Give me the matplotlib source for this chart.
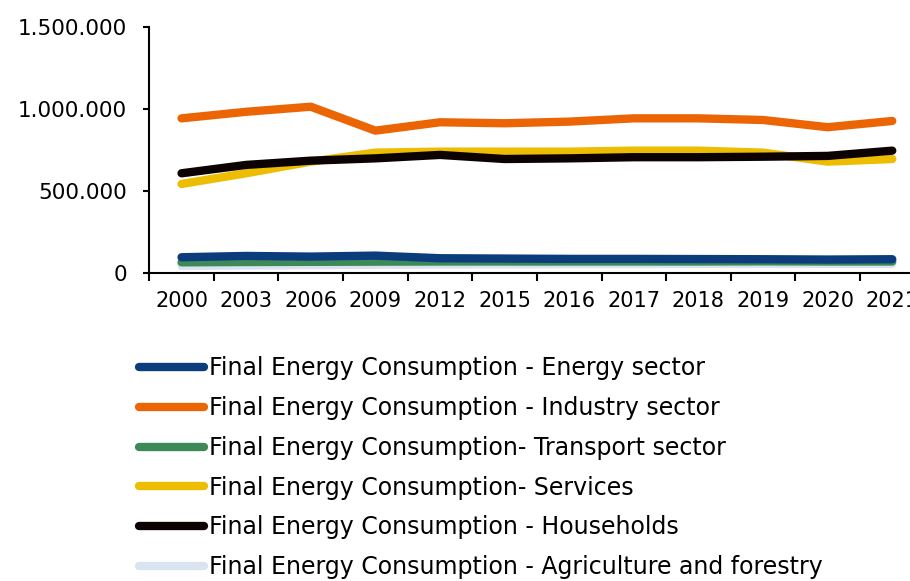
import matplotlib
matplotlib.use("Agg")
import matplotlib.pyplot as plt
from matplotlib.ticker import FuncFormatter, FixedLocator

plt.rcParams['font.family'] = ['DejaVu Sans']

# years on the category axis
years = ["2000", "2003", "2006", "2009", "2012", "2015", "2016",
         "2017", "2018", "2019", "2020", "2021"]

energy = [94000, 102000, 98000, 104000, 88000, 86000, 84000, 84000, 83000, 82000, 80000, 82000]
industry = [941000, 981000, 1012000, 866000, 917000, 911000, 921000, 941000, 941000, 931000, 887000, 925000]
transport = [63000, 65000, 66000, 67000, 68000, 68000, 68000, 68000, 68000, 69000, 68000, 68000]
services = [541000, 606000, 677000, 732000, 738000, 738000, 738000, 744000, 744000, 732000, 677000, 693000]
households = [606000, 657000, 683000, 697000, 718000, 693000, 697000, 704000, 704000, 707000, 712000, 744000]
agriculture = [41000, 44000, 46000, 48000, 50000, 51000, 52000, 52000, 53000, 53000, 53000, 53000]

labels = ["Final Energy Consumption - Energy sector",
          "Final Energy Consumption - Industry sector",
          "Final Energy Consumption- Transport sector",
          "Final Energy Consumption- Services",
          "Final Energy Consumption - Households",
          "Final Energy Consumption - Agriculture and forestry"]
colors = ["#0b3c7c", "#ec6504", "#3d8a58", "#ecbd00", "#0d0202", "#dae4f0"]
series = [energy, industry, transport, services, households, agriculture]
zorders = [5, 4, 4, 3, 4, 2]

fig = plt.figure(figsize=(9.1, 5.81), dpi=100)
ax = fig.add_axes([0.164, 0.5307, 0.852, 0.4234])

x = list(range(len(years)))
handles = []
for vals, lab, col, zo in zip(series, labels, colors, zorders):
    ln, = ax.plot(x, vals, color=col, lw=6, solid_capstyle='round',
                  solid_joinstyle='round', label=lab, zorder=zo)
    handles.append(ln)

ax.set_xlim(-0.5, len(years) - 0.5)
ax.set_ylim(0, 1500000)
ax.set_yticks([0, 500000, 1000000, 1500000])
ax.yaxis.set_major_formatter(FuncFormatter(lambda v, p: f"{int(v):,}".replace(",", ".")))

ax.set_xticks(x)
ax.set_xticklabels(years)
ax.xaxis.set_minor_locator(FixedLocator([i - 0.5 for i in range(len(years) + 1)]))
ax.tick_params(axis='x', which='major', length=0, pad=13, labelsize=15)
ax.tick_params(axis='x', which='minor', length=6, width=1.5, direction='out')
ax.tick_params(axis='y', length=4, width=1.5, pad=12, labelsize=15.5)

for s in ['top', 'right']:
    ax.spines[s].set_visible(False)
for s in ['left', 'bottom']:
    ax.spines[s].set_linewidth(1.5)

fig.legend(handles=handles, loc='upper left', bbox_to_anchor=(0.153, 0.387),
           frameon=False, fontsize=17, handlelength=2.75, handletextpad=0.2,
           labelspacing=0.67, borderaxespad=0, borderpad=0)

fig.savefig("out.png", dpi=100)
